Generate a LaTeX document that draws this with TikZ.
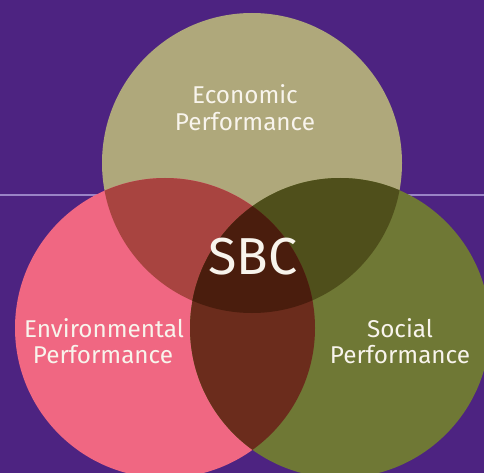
\documentclass[tikz,border=0pt]{standalone}
\usepackage{fontspec}
\setmainfont{Fira Sans}
\definecolor{bgpurple}{HTML}{4D2381}
\definecolor{rulecol}{HTML}{9A84C6}
\definecolor{econ}{HTML}{AFA87B}
\definecolor{envi}{HTML}{F06782}
\definecolor{soci}{HTML}{6F7835}
\definecolor{econenvi}{HTML}{A84440}
\definecolor{econsoci}{HTML}{4F4F1B}
\definecolor{envisoci}{HTML}{6B2C1C}
\definecolor{allthree}{HTML}{4A1D0D}
\definecolor{txt}{HTML}{F8F4EC}
\tikzset{
  lbl/.style={text=txt, font=\fontsize{24.3}{27}\selectfont, anchor=base, inner sep=0pt},
  big/.style={text=txt, font=\fontsize{52}{56}\selectfont, anchor=base, inner sep=0pt}
}
\begin{document}
\begin{tikzpicture}[x=1pt,y=-1pt]
\fill[bgpurple] (0,0) rectangle (484,473);
\useasboundingbox (0,0) rectangle (484,473);
\coordinate (cE) at (252,163);
\coordinate (cL) at (165,328);
\coordinate (cR) at (340,328);
\coordinate (lineL) at (0,195);
\coordinate (lineR) at (484,195);
\draw[rulecol, line width=2pt] (lineL) -- (lineR);
\fill[econ] (cE) circle (150);
\fill[envi] (cL) circle (150);
\fill[soci] (cR) circle (150);
\begin{scope}
  \clip (cE) circle (150);
  \fill[econenvi] (cL) circle (150);
  \fill[econsoci] (cR) circle (150);
\end{scope}
\begin{scope}
  \clip (cL) circle (150);
  \fill[envisoci] (cR) circle (150);
  \clip (cR) circle (150);
  \fill[allthree] (cE) circle (150);
\end{scope}
\node[lbl] (e1) at (245,104) {Economic};
\node[lbl] (e2) at (245,131) {Performance};
\node[lbl] (l1) at (104,337) {Environmental};
\node[lbl] (l2) at (103,363) {Performance};
\node[lbl] (r1) at (400,337) {Social};
\node[lbl] (r2) at (400,363) {Performance};
\node[big] (sbc) at (253,274) {SBC};
\end{tikzpicture}
\end{document}
